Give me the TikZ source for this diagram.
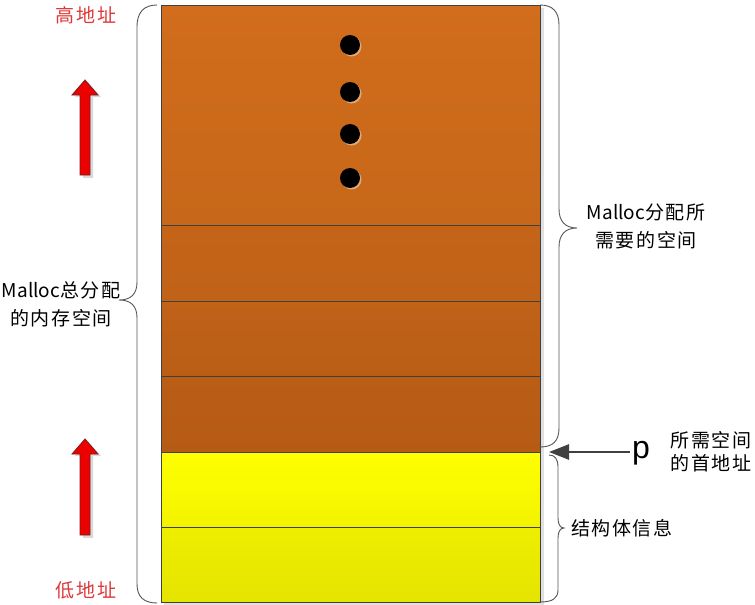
\documentclass[tikz,border=0pt]{standalone}
\usepackage{fontspec}
\setmainfont{Liberation Sans}
\newfontfamily\cjk[LetterSpace=8]{Noto Sans CJK SC}
\newfontfamily\cjkn{Noto Sans CJK SC}
\usetikzlibrary{arrows.meta}
\definecolor{oA}{RGB}{209,109,28}
\definecolor{oB}{RGB}{199,103,25}
\definecolor{oC}{RGB}{196,100,24}
\definecolor{oD}{RGB}{192,98,24}
\definecolor{oF}{RGB}{186,94,22}
\definecolor{oG}{RGB}{186,94,22}
\definecolor{oH}{RGB}{182,91,21}
\definecolor{yA}{RGB}{255,255,0}
\definecolor{yB}{RGB}{243,243,0}
\definecolor{yC}{RGB}{238,238,0}
\definecolor{yD}{RGB}{228,228,0}
\definecolor{redtxt}{RGB}{222,56,56}
\definecolor{braceclr}{RGB}{85,85,85}
\definecolor{arrowclr}{RGB}{64,64,64}
\definecolor{dotshadow}{RGB}{222,170,120}
\definecolor{arrred}{RGB}{236,0,0}
\definecolor{arrborder}{RGB}{120,30,30}
\newcommand{\mal}{{\cjkn Malloc}}
\begin{document}
\begin{tikzpicture}[x=1pt,y=-1pt,
  blk/.style={draw=black!75,line width=0.9pt,minimum width=379pt,inner sep=0pt,anchor=north west,outer sep=0pt},
  bracepath/.style={draw=braceclr,line width=0.9pt},
  lbl/.style={font=\cjk\fontsize{19}{28}\selectfont,align=center,inner sep=0pt},
  redlbl/.style={font=\cjk\fontsize{19}{24}\selectfont,text=redtxt,inner sep=0pt},
  uparrow/.style={fill=arrred,draw=arrborder,line width=0.8pt,line join=miter},
  parrow/.style={draw=arrowclr,line width=2.6pt,-{Triangle[length=20pt,width=15pt]}},
  dot/.style={fill=black},
  dotsh/.style={fill=dotshadow}
]
\useasboundingbox (0,0) rectangle (755,605);
\fill[white] (0,0) rectangle (755,605);

% shadow of column
\fill[black!12] (164,8) rectangle (544,606);

% blocks
\node[blk,minimum height=220pt,top color=oA,bottom color=oB] (b1) at (161,5) {};
\node[blk,minimum height=76pt,top color=oC,bottom color=oD] (b2) at (161,225) {};
\node[blk,minimum height=75pt,top color=oD,bottom color=oF] (b3) at (161,301) {};
\node[blk,minimum height=76pt,top color=oG,bottom color=oH] (b4) at (161,376) {};
\node[blk,minimum height=75pt,top color=yA,bottom color=yB] (b5) at (161,452) {};
\node[blk,minimum height=75pt,top color=yC,bottom color=yD] (b6) at (161,527) {};

% dots
\foreach \yy in {45,92,134,178}{
  \fill[dotsh] (351.5,\yy+1.5) circle (10);
  \fill[dot] (350,\yy) circle (10);
}

% left brace
\draw[bracepath] (157,5) .. controls (144,5) and (137,12) .. (137,27) -- (137,282)
  .. controls (137,294) and (131,300) .. (119,300)
  .. controls (131,300) and (137,306) .. (137,318) -- (137,584)
  .. controls (137,597) and (144,603) .. (157,603);

% right upper brace
\draw[bracepath] (540,5) .. controls (553,5) and (559,12) .. (559,25) -- (559,209)
  .. controls (559,221) and (565,228) .. (577,228)
  .. controls (565,228) and (559,235) .. (559,247) -- (559,428)
  .. controls (559,441) and (553,447) .. (540,447);

% right lower brace
\draw[bracepath] (549,455) .. controls (555,455) and (558,459) .. (558,467) -- (558,518)
  .. controls (558,524) and (560,528) .. (564,528)
  .. controls (560,528) and (558,532) .. (558,538) -- (558,590)
  .. controls (558,598) and (553,602) .. (540,602);

% red address labels
\node[redlbl] (hi) at (86,15) {高地址};
\node[redlbl] (lo) at (86,590) {低地址};

% red up arrows
\fill[black!15] (88,82) -- (101,97) -- (93,97) -- (93,178) -- (83,178) -- (83,97) -- (75,97) -- cycle;
\draw[uparrow] (85,80) -- (98,95) -- (90,95) -- (90,175) -- (80,175) -- (80,95) -- (72,95) -- cycle;
\fill[black!15] (88,441) -- (101,456) -- (93,456) -- (93,538) -- (83,538) -- (83,456) -- (75,456) -- cycle;
\draw[uparrow] (85,439) -- (98,454) -- (90,454) -- (90,535) -- (80,535) -- (80,454) -- (72,454) -- cycle;

% labels
\node[lbl] (total) at (61,304) {\mal 总分配\\的内存空间};
\node[lbl] (req) at (646,226) {\mal 分配所\\需要的空间};
\node[lbl,anchor=west] (info) at (571,528) {结构体信息};
\node[font=\cjk\fontsize{19}{23}\selectfont,align=center,inner sep=0pt] (first) at (711,452) {所需空间\\的首地址};

% p pointer
\node[font=\fontsize{32}{32}\selectfont,inner sep=2pt,anchor=base] (p) at (641,458) {p};
\coordinate (ptip) at (549,452);
\draw[parrow] (p.west |- ptip) -- (ptip);
\end{tikzpicture}
\end{document}
